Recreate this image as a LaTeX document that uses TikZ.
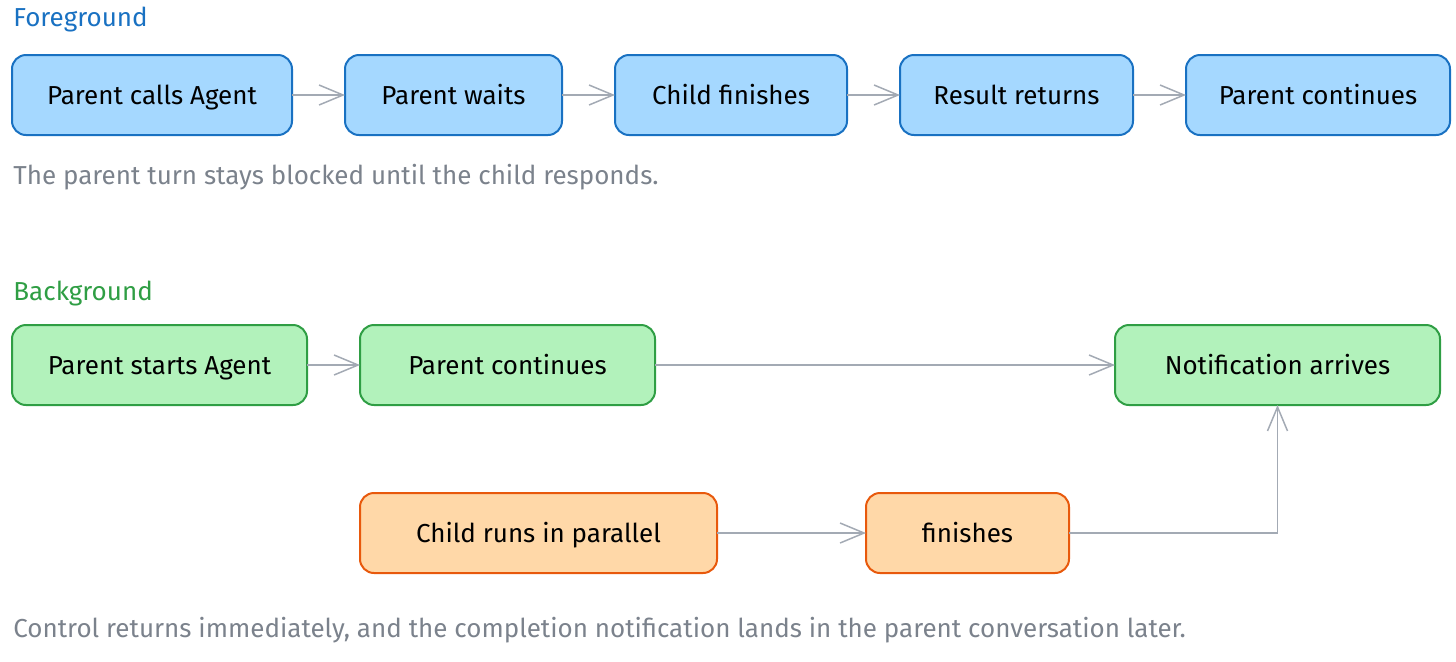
\documentclass[tikz,border=0pt]{standalone}
\usepackage{fontspec}
\setmainfont{Fira Sans}
\usepackage{xcolor}
\usetikzlibrary{arrows.meta, positioning}
\definecolor{fgfill}{HTML}{A5D8FF}
\definecolor{fgline}{HTML}{1971C2}
\definecolor{bgfill}{HTML}{B2F2BB}
\definecolor{bgline}{HTML}{2F9E44}
\definecolor{childfill}{HTML}{FFD8A8}
\definecolor{childline}{HTML}{E8590C}
\definecolor{arrowgray}{HTML}{A3AAB4}
\definecolor{notegray}{HTML}{7B828C}

\begin{document}
\begin{tikzpicture}[
    x=0.5pt, y=-0.5pt,
    node distance=26.5pt,
    box/.style={rectangle, draw, line width=1pt, outer sep=0pt, rounded corners=7pt, minimum height=40pt, inner sep=0pt, text height=10pt, text depth=1pt, align=center, font=\fontsize{13}{15}\selectfont},
    fgbox/.style={box, draw=fgline, fill=fgfill},
    bgbox/.style={box, draw=bgline, fill=bgfill},
    childbox/.style={box, draw=childline, fill=childfill},
    heading/.style={anchor=west, inner sep=0pt, font=\fontsize{13}{15}\selectfont},
    note/.style={anchor=west, inner sep=0pt, text=notegray, font=\fontsize{13}{15}\selectfont},
    arrow/.style={draw=arrowgray, line width=0.75pt, -{Straight Barb[length=12pt, width=10pt]}}
]
    \useasboundingbox (0,0) rectangle (1456,661);

    % Foreground
    \node[heading, text=fgline] (fgtitle) at (13,20) {Foreground};
    \node[fgbox, minimum width=140pt, anchor=west] (calls) at (12,95) {Parent calls Agent};
    \node[fgbox, minimum width=108.5pt, right=of calls] (waits) {Parent waits};
    \node[fgbox, minimum width=116pt, right=of waits] (childdone) {Child finishes};
    \node[fgbox, minimum width=116.5pt, right=of childdone] (result) {Result returns};
    \node[fgbox, minimum width=132pt, right=of result] (fgcont) {Parent continues};
    \node[note] (fgnote) at (13,177) {The parent turn stays blocked until the child responds.};

    % Background
    \node[heading, text=bgline] (bgtitle) at (13,294) {Background};
    \node[bgbox, minimum width=147.5pt, anchor=west] (starts) at (12,365) {Parent starts Agent};
    \node[bgbox, minimum width=147.5pt, right=of starts] (bgcont) {Parent continues};
    \node[bgbox, minimum width=162.5pt, anchor=west] (notif) at (1115,365) {Notification arrives};
    \node[childbox, minimum width=178.5pt, anchor=west] (parallel) at (360,533) {Child runs in parallel};
    \node[childbox, minimum width=101.5pt, right=74.5pt of parallel] (finishes) {finishes};
    \node[note] (bgnote) at (13,630) {Control returns immediately, and the completion notification lands in the parent conversation later.};

    % Arrows
    \draw[arrow] (calls) -- (waits);
    \draw[arrow] (waits) -- (childdone);
    \draw[arrow] (childdone) -- (result);
    \draw[arrow] (result) -- (fgcont);
    \draw[arrow] (starts) -- (bgcont);
    \draw[arrow] (bgcont) -- (notif);
    \draw[arrow] (parallel) -- (finishes);
    \draw[arrow] (finishes) -| (notif);

\end{tikzpicture}
\end{document}
